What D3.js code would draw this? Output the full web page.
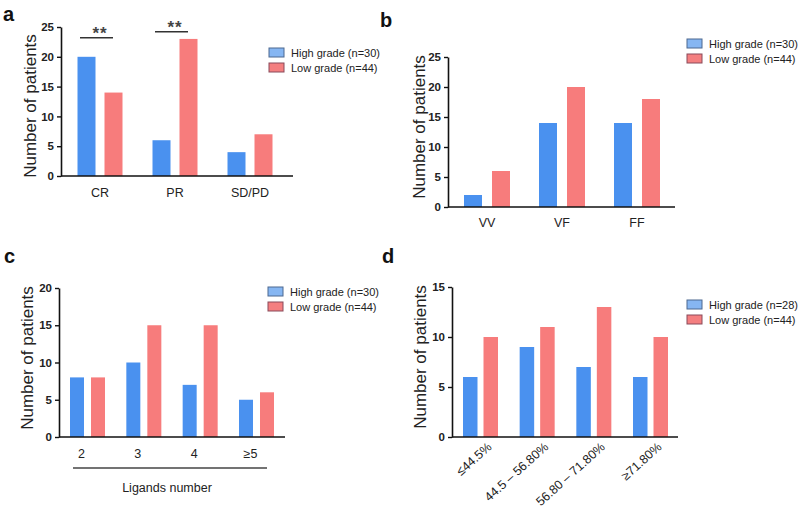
<!DOCTYPE html>
<html><head><meta charset="utf-8">
<script src="https://cdn.jsdelivr.net/npm/d3@7"></script>
<style>body{margin:0;background:#fff}svg{display:block;font-family:Arial,"Liberation Sans",sans-serif}</style>
</head><body><svg id="chart" width="800" height="509"></svg>
<script>
// ---------- data ----------
const seriesNames = ["High grade", "Low grade"];
const catsA = ["CR", "PR", "SD/PD"];
const highA = [20, 6, 4];
const lowA = [14, 23, 7];
const nA = [30, 44];
const sigA = [{cat: "CR", level: 23.2, label: "**"}, {cat: "PR", level: 24.2, label: "**"}];
const ticksA = [0, 5, 10, 15, 20, 25];

const catsB = ["VV", "VF", "FF"];
const highB = [2, 14, 14];
const lowB = [6, 20, 18];
const nB = [30, 44];
const ticksB = [0, 5, 10, 15, 20, 25];

const catsC = ["2", "3", "4", "≥5"];
const highC = [8, 10, 7, 5];
const lowC = [8, 15, 15, 6];
const nC = [30, 44];
const ticksC = [0, 5, 10, 15, 20];
const xTitleC = "Ligands number";

const catsD = ["≤44.5%", "44.5 – 56.80%", "56.80 – 71.80%", "≥71.80%"];
const highD = [6, 9, 7, 6];
const lowD = [10, 11, 13, 10];
const nD = [28, 44];
const ticksD = [0, 5, 10, 15];

const yTitle = "Number of patients";
const barColors = ["#4a91ef", "#f77c7c"];
const legendFill = ["#86b6f2", "#f47f80"];
const legendStroke = ["#4d6890", "#8a4a5a"];

// ---------- drawing ----------
const svg = d3.select("#chart");

function panel(o) {
  const g = svg.append("g");
  const y = d3.scaleLinear().domain([0, o.ticks[o.ticks.length - 1]]).range([o.y0, o.y1]);
  const x = d3.scalePoint().domain(o.cats).range([o.c0, o.c1]);
  const bw = o.bw, gap = o.gap;
  const rows = o.cats.map((c, i) => ({c, h: o.high[i], l: o.low[i]}));
  g.selectAll("rect.h").data(rows).join("rect")
    .attr("x", d => x(d.c) - gap / 2 - bw).attr("width", bw)
    .attr("y", d => y(d.h)).attr("height", d => y(0) - y(d.h))
    .attr("fill", barColors[0]);
  g.selectAll("rect.l").data(rows).join("rect")
    .attr("x", d => x(d.c) + gap / 2).attr("width", bw)
    .attr("y", d => y(d.l)).attr("height", d => y(0) - y(d.l))
    .attr("fill", barColors[1]);
  const ya = g.append("g").attr("transform", `translate(${o.ax},0)`)
    .call(d3.axisLeft(y).tickValues(o.ticks).tickSize(4).tickPadding(3).tickSizeOuter(0));
  ya.select(".domain").attr("stroke", "#111").attr("stroke-width", 1.6);
  ya.selectAll(".tick line").attr("stroke", "#111").attr("stroke-width", 1.4);
  ya.selectAll(".tick text").attr("font-size", 11.5).attr("font-weight", "bold").attr("fill", "#222")
    .attr("font-family", "Arial, 'Liberation Sans', sans-serif");
  g.append("line").attr("x1", o.ax).attr("x2", o.axEnd).attr("y1", y(0)).attr("y2", y(0))
    .attr("stroke", "#111").attr("stroke-width", 1.6);
  if (o.rotate) {
    g.selectAll("text.xl").data(o.cats).join("text")
      .attr("transform", d => `translate(${x(d) + 12},${y(0) + 11}) rotate(-42)`)
      .attr("text-anchor", "end").attr("font-size", 12.5).attr("fill", "#222").text(d => d);
  } else {
    g.selectAll("text.xl").data(o.cats).join("text")
      .attr("x", d => x(d) + (o.xShift || 0)).attr("y", y(0) + o.xlabDy)
      .attr("text-anchor", "middle").attr("font-size", 12.5).attr("fill", "#222").text(d => d);
  }
  g.append("text").attr("transform", `translate(${o.ytX},${o.ytY}) rotate(-90)`)
    .attr("text-anchor", "middle").attr("font-size", 17).attr("fill", "#222").text(yTitle);
  seriesNames.forEach((s, i) => {
    const ly = o.legY + i * 15;
    g.append("rect").attr("x", o.legX).attr("y", ly).attr("width", 15).attr("height", 9)
      .attr("fill", legendFill[i]).attr("stroke", legendStroke[i]).attr("stroke-width", 1);
    g.append("text").attr("x", o.legX + 22).attr("y", ly + 8.5).attr("font-size", 11)
      .attr("fill", "#222").text(`${s} (n=${o.n[i]})`);
  });
  g.append("text").attr("x", o.letX).attr("y", o.letY).attr("font-size", 20)
    .attr("font-weight", "bold").attr("fill", "#111").text(o.letter);
  return {g, x, y};
}

const pa = panel({cats: catsA, high: highA, low: lowA, n: nA, ticks: ticksA,
  y0: 176, y1: 27, c0: 100, c1: 250, bw: 18, gap: 9, ax: 61, axEnd: 293, xlabDy: 21,
  ytX: 36, ytY: 106, legX: 269, legY: 48, letX: 3, letY: 21, letter: "a"});
sigA.forEach(s => {
  const c = pa.x(s.cat), yy = pa.y(s.level);
  pa.g.append("line").attr("x1", c - 20).attr("x2", c + 13).attr("y1", yy).attr("y2", yy)
    .attr("stroke", "#333").attr("stroke-width", 1.3);
  pa.g.append("text").attr("x", c).attr("y", yy + 1).attr("text-anchor", "middle")
    .attr("font-size", 17).attr("font-weight", "bold").attr("letter-spacing", 1).attr("fill", "#444").text(s.label);
});

panel({cats: catsB, high: highB, low: lowB, n: nB, ticks: ticksB,
  y0: 207, y1: 57, c0: 487, c1: 637, bw: 18, gap: 10, ax: 448, axEnd: 675, xlabDy: 20,
  ytX: 425, ytY: 127, legX: 687, legY: 39, letX: 380, letY: 27, letter: "b"});

const pc = panel({cats: catsC, high: highC, low: lowC, n: nC, ticks: ticksC,
  y0: 437, y1: 288, c0: 87.5, c1: 256.5, bw: 14, gap: 7, ax: 59, axEnd: 285, xlabDy: 21, xShift: -6,
  ytX: 33, ytY: 358, legX: 268, legY: 287, letX: 4, letY: 263, letter: "c"});
pc.g.append("line").attr("x1", 73).attr("x2", 267).attr("y1", 468).attr("y2", 468)
  .attr("stroke", "#444").attr("stroke-width", 1.3);
pc.g.append("text").attr("x", 167).attr("y", 492).attr("text-anchor", "middle")
  .attr("font-size", 12.5).attr("fill", "#222").text(xTitleC);

panel({cats: catsD, high: highD, low: lowD, n: nD, ticks: ticksD,
  y0: 437, y1: 287, c0: 480.5, c1: 650.5, bw: 14.5, gap: 6, ax: 452, axEnd: 678, rotate: true,
  ytX: 426, ytY: 357, legX: 687, legY: 300, letX: 382, letY: 263, letter: "d"});
</script></body></html>
